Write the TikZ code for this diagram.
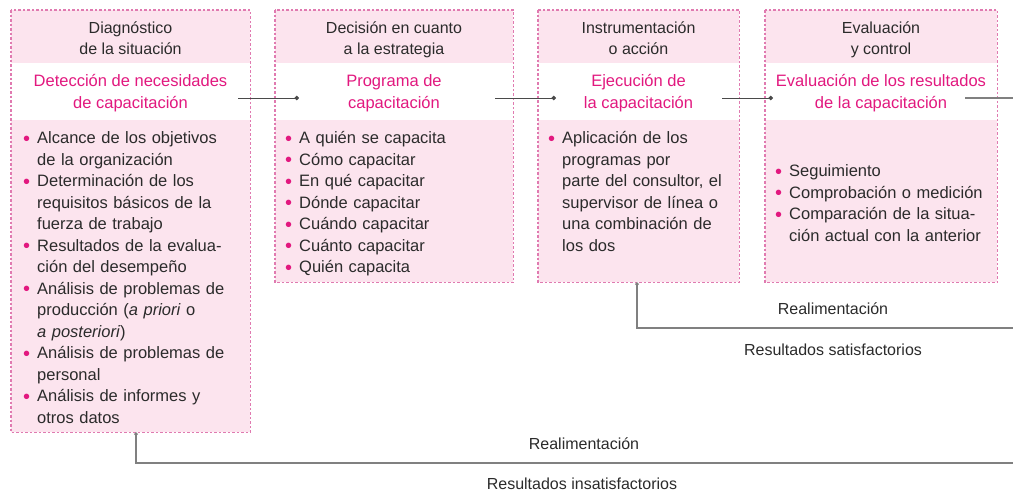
\documentclass[tikz,border=0pt]{standalone}
\usepackage{fontspec}
\setmainfont{Liberation Sans}
\usetikzlibrary{calc,arrows.meta}
\definecolor{pinkfill}{HTML}{FCE4EE}
\definecolor{mag}{HTML}{E2187F}
\definecolor{dashpk}{HTML}{E07AB0}
\definecolor{txt}{HTML}{2B2B2B}
\definecolor{ln}{HTML}{4A4A4A}
\definecolor{fb}{HTML}{808080}
\newcommand\mystrut{\vrule height16pt width0pt\relax}
\newcommand\nl{\newline\hspace*{14pt}}
\newcommand\bitem[1]{\par\noindent\mystrut\makebox[14pt][l]{\raisebox{-1.3pt}{\fontsize{20}{20}\selectfont\textcolor{mag}{\textbullet}}}#1}
\begin{document}
\begin{tikzpicture}[x=1pt,y=-1pt,
  box/.style={fill=pinkfill, draw=none, inner sep=0pt, anchor=north west},
  border/.style={draw=dashpk, line width=1.1pt, dash pattern=on 2.5pt off 2pt},
  head/.style={font=\fontsize{16}{21}\selectfont, text=txt, align=center, inner sep=0pt, anchor=north},
  ttl/.style={font=\fontsize{16.5}{22}\selectfont, text=mag, align=center, inner sep=0pt, anchor=north},
  body/.style={font=\fontsize{16.5}{21.5}\selectfont, text=txt, text width=300pt, align=left, inner sep=0pt, anchor=north west, execute at begin node={\setlength{\parskip}{0pt}}},
  conn/.style={draw=ln, line width=0.9pt, -{Circle[length=4.5pt]}},
  fbline/.style={draw=fb, line width=1.4pt},
  fbend/.style={draw=fb, line width=1.4pt, -{Circle[length=3.5pt]}},
  lbl/.style={font=\fontsize{16}{20}\selectfont, text=txt, anchor=base, inner sep=0pt}
]
\useasboundingbox (0,0) rectangle (1013,491);

% boxes
\node[box, minimum width=239pt, minimum height=422pt] (b1) at (11,10) {};
\node[box, minimum width=238pt, minimum height=272pt] (b2) at (275,10) {};
\node[box, minimum width=201pt, minimum height=272pt] (b3) at (538,10) {};
\node[box, minimum width=232pt, minimum height=272pt] (b4) at (765,10) {};

% white bands
\foreach \b in {b1,b2,b3,b4}{
  \fill[white] (\b.north west |- 0,63) rectangle (\b.north east |- 0,120);
  \draw[border] (\b.north west) rectangle (\b.south east);
}

% headers
\node[head] (h1) at (130.5,17.5) {\mystrut Diagnóstico\\de la situación};
\node[head] (h2) at (394,17.5) {\mystrut Decisión en cuanto\\a la estrategia};
\node[head] (h3) at (638.5,17.5) {\mystrut Instrumentación\\o acción};
\node[head] (h4) at (881,17.5) {\mystrut Evaluación\\y control};

% titles
\node[ttl] (t1) at (130.5,70.5) {\mystrut Detección de necesidades\\de capacitación};
\node[ttl] (t2) at (394,70.5) {\mystrut Programa de\\capacitación};
\node[ttl] (t3) at (638.5,70.5) {\mystrut Ejecución de\\la capacitación};
\node[ttl] (t4) at (881,70.5) {\mystrut Evaluación de los resultados\\de la capacitación};

% bodies
\node[body] (d1) at (23,122) {%
\bitem{Alcance de los objetivos\nl de la organización}
\bitem{Determinación de los\nl requisitos básicos de la\nl fuerza de trabajo}
\bitem{Resultados de la evalua-\nl ción del desempeño}
\bitem{Análisis de problemas de\nl producción (\textit{a priori} o\nl \textit{a posteriori})}
\bitem{Análisis de problemas de\nl personal}
\bitem{Análisis de informes y\nl otros datos}};

\node[body] (d2) at (285,122) {%
\bitem{A quién se capacita}
\bitem{Cómo capacitar}
\bitem{En qué capacitar}
\bitem{Dónde capacitar}
\bitem{Cuándo capacitar}
\bitem{Cuánto capacitar}
\bitem{Quién capacita}};

\node[body] (d3) at (548,122) {%
\bitem{Aplicación de los\nl programas por\nl parte del consultor, el\nl supervisor de línea o\nl una combinación de\nl los dos}};

\node[body] (d4) at (775,155) {%
\bitem{Seguimiento}
\bitem{Comprobación o medición}
\bitem{Comparación de la situa-\nl ción actual con la anterior}};

% forward connectors
\coordinate (s1) at ($(b1.north east)+(-12,88)$);
\coordinate (e1) at ($(b2.north west)+(24,88)$);
\coordinate (s2) at ($(b2.north east)+(-18,88)$);
\coordinate (e2) at ($(b3.north west)+(18,88)$);
\coordinate (s3) at ($(b3.north east)+(-17,88)$);
\coordinate (e3) at ($(b4.north west)+(8,88)$);
\coordinate (s4) at ($(b4.north east)+(-32,88)$);
\draw[conn] (s1) -- (e1);
\draw[conn] (s2) -- (e2);
\draw[conn] (s3) -- (e3);

% feedback
\coordinate (R) at (1030,98);
\coordinate (f1) at ($(b3.south west)+(99,0)$);
\coordinate (f2) at ($(b1.south west)+(125,0)$);
\draw[fbline] (s4) -- (R) -- (R |- 0,463);
\draw[fbend] (R |- 0,328) -| (f1);
\draw[fbend] (R |- 0,463) -| (f2);

% labels
\node[lbl] (l1) at (833,314) {Realimentación};
\node[lbl] (l2) at (833,355) {Resultados satisfactorios};
\node[lbl] (l3) at (584,449) {Realimentación};
\node[lbl] (l4) at (582,489) {Resultados insatisfactorios};
\end{tikzpicture}
\end{document}
